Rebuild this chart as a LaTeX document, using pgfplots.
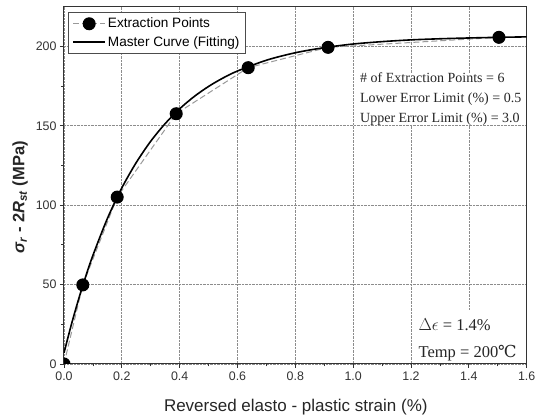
\documentclass[border=0pt]{standalone}
\usepackage{fontspec}
\setmainfont{Liberation Sans}
\newfontfamily\notefont{Liberation Serif}
\newfontfamily\symserif{DejaVu Serif}
\usepackage{pgfplots}
\pgfplotsset{compat=1.18}

% extraction points (strain in %, stress in MPa)
\pgfplotstableread{
x      y
0.000  0.0
0.065  49.8
0.184  105.1
0.388  157.6
0.637  186.6
0.913  199.4
1.504  205.7
}\extraction

% fitted master curve
\pgfplotstableread{
x      y
0.000  7.0
0.025  24.5
0.050  40.5
0.075  55.1
0.100  68.4
0.150  91.6
0.200  110.9
0.250  126.9
0.300  140.3
0.350  151.4
0.400  160.7
0.450  168.4
0.500  174.8
0.550  180.1
0.600  184.5
0.700  191.3
0.800  196.0
0.900  199.2
1.000  201.5
1.100  203.0
1.200  204.1
1.300  204.8
1.400  205.3
1.500  205.7
1.600  206.0
}\master

\begin{document}
\begin{tikzpicture}
\begin{axis}[
  scale only axis,
  width=462.7pt, height=357.3pt,
  xmin=0, xmax=1.6, ymin=0, ymax=225,
  xtick={0,0.2,...,1.6},
  ytick={0,50,100,150,200},
  minor x tick num=1,
  minor y tick num=1,
  xtick pos=bottom, ytick pos=left,
  tick align=outside,
  major tick length=4pt, minor tick length=2.5pt,
  every tick/.style={black!80, line width=0.8pt},
  axis line style={black!80, line width=1pt},
  grid=major,
  major grid style={densely dotted, black!45, line width=0.7pt},
  /pgf/number format/assume math mode=true,
  xticklabel style={/pgf/number format/.cd, fixed, fixed zerofill, precision=1},
  ticklabel style={font=\fontsize{12.4}{14}\selectfont, text=black!80},
  xlabel={Reversed elasto - plastic strain (\%)},
  xlabel style={font=\fontsize{17}{19}\selectfont, text=black!85,
    at={(axis description cs:0.501,0)}, anchor=base, yshift=-47.7pt},
  ylabel={\bfseries\itshape σ\textsubscript{r}\upshape\ - 2\itshape R\textsubscript{st}\upshape\ (MPa)},
  ylabel style={font=\fontsize{16.5}{18}\selectfont, text=black!85,
    at={(axis description cs:0,0.467)}, anchor=center, yshift=44pt},
  clip marker paths=true,
  legend style={at={(axis description cs:0.0086,0.986)}, anchor=north west,
    draw=black!70, line width=0.8pt, font=\fontsize{13.6}{15}\selectfont,
    row sep=3pt, inner xsep=4pt, inner ysep=4pt},
  legend cell align=left,
  legend image code/.code={
    \draw[mark repeat=2, mark phase=2, #1]
      plot coordinates {(0pt,0pt) (16pt,0pt) (32pt,0pt)};},
]
\addplot[black!40, dash pattern=on 6pt off 3pt, line width=1pt,
  mark=*, mark size=6pt, mark options={solid, fill=black, draw=black}]
  table[x=x, y=y] {\extraction};
\addlegendentry{Extraction Points}
\addplot[black, line width=1.6pt, smooth] table[x=x, y=y] {\master};
\addlegendentry{Master Curve (Fitting)}

% white panels behind the notes
\fill[white] (axis cs:1.003,150.6) rectangle (axis cs:1.597,183.5);
\fill[white] (axis cs:1.203,0.6) rectangle (axis cs:1.597,34);

\node[anchor=base west, font=\notefont\fontsize{14}{16}\selectfont, text=black!85]
  at (axis cs:1.012,177.2) {\# of Extraction Points = 6};
\node[anchor=base west, font=\notefont\fontsize{14}{16}\selectfont, text=black!85]
  at (axis cs:1.012,164.6) {Lower Error Limit (\%) = 0.5};
\node[anchor=base west, font=\notefont\fontsize{14}{16}\selectfont, text=black!85]
  at (axis cs:1.012,152.0) {Upper Error Limit (\%) = 3.0};
\node[anchor=base west, font=\notefont\fontsize{16.5}{18}\selectfont, text=black!85]
  at (axis cs:1.214,20.8) {$\Delta\epsilon$ = 1.4\%};
\node[anchor=base west, font=\notefont\fontsize{16.5}{18}\selectfont, text=black!85]
  at (axis cs:1.214,4.4) {Temp = 200{\symserif ℃}};
\end{axis}
\pgfresetboundingbox
\path ([shift={(-64pt,-55pt)}]current axis.south west)
  rectangle ([shift={(9.3pt,6.7pt)}]current axis.north east);
\end{tikzpicture}
\end{document}
